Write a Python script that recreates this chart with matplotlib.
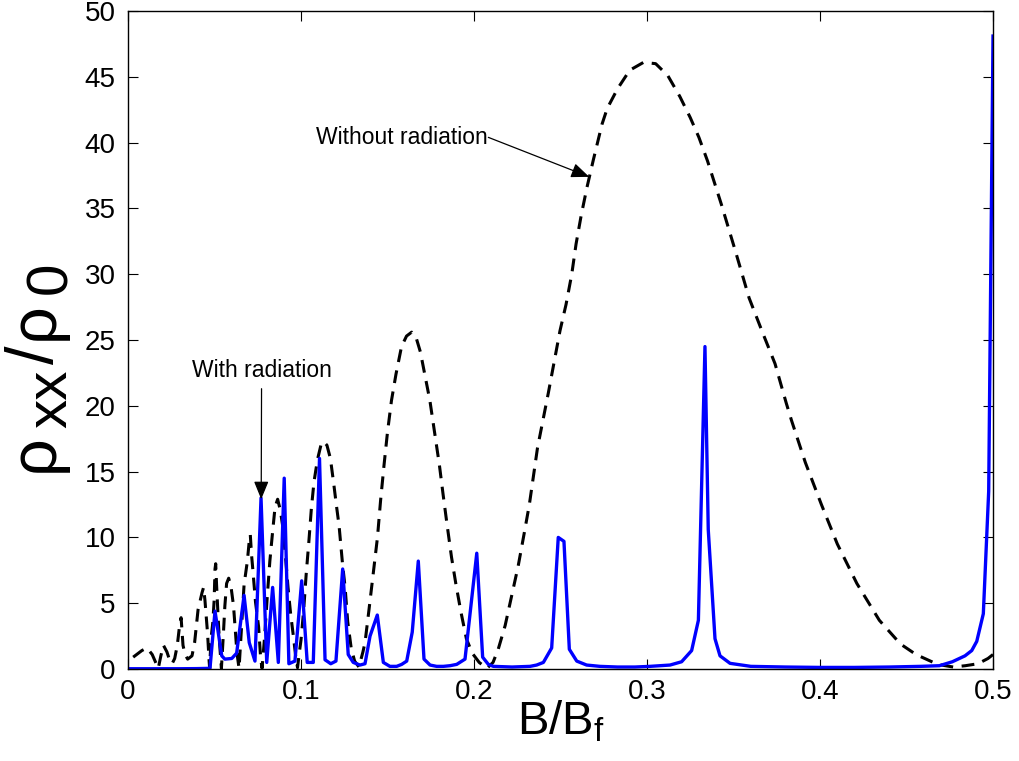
import numpy as np
import matplotlib
matplotlib.use("Agg")
import matplotlib.pyplot as plt

plt.rcParams['font.family'] = ['Liberation Sans', 'DejaVu Sans']
plt.rcParams['mathtext.fontset'] = 'custom'
plt.rcParams['mathtext.rm'] = 'Liberation Sans'
plt.rcParams['mathtext.it'] = 'Liberation Sans'
plt.rcParams['mathtext.bf'] = 'Liberation Sans:bold'

# rho_xx/rho_0 with radiation (blue, solid)
x_rad = [0.0, 0.01, 0.02, 0.03, 0.04, 0.0474, 0.0503, 0.0542, 0.0560, 0.0600,
         0.0628, 0.0671, 0.0701, 0.0734, 0.0769, 0.0802, 0.0836, 0.0869, 0.0903, 0.0930,
         0.0965, 0.1004, 0.1036, 0.1071, 0.1107, 0.1139, 0.1172, 0.1202, 0.1241, 0.1273,
         0.1302, 0.1341, 0.1370, 0.1399, 0.1441, 0.1476, 0.1514, 0.1553, 0.1582, 0.1611,
         0.1643, 0.1678, 0.1711, 0.1746, 0.1784, 0.1823, 0.1861, 0.1900, 0.1948, 0.2016,
         0.2050, 0.2083, 0.2112, 0.2220, 0.2324, 0.2362, 0.2401, 0.2449, 0.2487, 0.2520,
         0.2551, 0.2594, 0.2651, 0.2728, 0.2830, 0.2930, 0.3017, 0.3133, 0.3200, 0.3258,
         0.3297, 0.3335, 0.3354, 0.3393, 0.3422, 0.3480, 0.3600, 0.3800, 0.4000, 0.4200,
         0.4400, 0.4580, 0.4690, 0.4765, 0.4838, 0.4877, 0.4906, 0.4944, 0.4975, 0.5000]
y_rad = [0.02, 0.02, 0.02, 0.02, 0.03, 0.05, 4.4, 1.0, 0.75, 0.8,
         1.2, 5.6, 2.0, 0.6, 13.0, 0.5, 6.2, 0.5, 14.5, 0.4,
         0.6, 6.7, 0.5, 0.5, 16.0, 0.7, 0.4, 0.6, 7.6, 1.1,
         0.5, 0.3, 0.4, 2.5, 4.1, 0.5, 0.2, 0.2, 0.35, 0.6,
         2.8, 8.2, 0.75, 0.3, 0.2, 0.2, 0.25, 0.35, 0.75, 8.8,
         0.9, 0.35, 0.2, 0.15, 0.2, 0.3, 0.5, 1.6, 10.0, 9.7,
         1.5, 0.6, 0.3, 0.2, 0.15, 0.15, 0.2, 0.3, 0.55, 1.4,
         3.7, 24.5, 10.6, 2.3, 1.0, 0.43, 0.2, 0.15, 0.12, 0.12,
         0.15, 0.2, 0.25, 0.55, 1.0, 1.4, 2.1, 4.2, 13.5, 48.1]

# rho_xx/rho_0 without radiation (black, dashed)
x_dark = [0.0030, 0.0080, 0.0110, 0.0140, 0.0160, 0.0175, 0.0190, 0.0205, 0.0225, 0.0240,
          0.0255, 0.0270, 0.0285, 0.0300, 0.0307, 0.0318, 0.0330, 0.0345, 0.0370, 0.0385,
          0.0405, 0.0428, 0.0437, 0.0445, 0.0452, 0.0460, 0.0468, 0.0472, 0.0480, 0.0490,
          0.0498, 0.0503, 0.0507, 0.0512, 0.0520, 0.0528, 0.0540, 0.0552, 0.0560, 0.0570,
          0.0582, 0.0595, 0.0610, 0.0620, 0.0630, 0.0642, 0.0650, 0.0662, 0.0671, 0.0690,
          0.0700, 0.0707, 0.0714, 0.0720, 0.0737, 0.0755, 0.0767, 0.0775, 0.0790, 0.0805,
          0.0820, 0.0835, 0.0850, 0.0865, 0.0880, 0.0895, 0.0910, 0.0925, 0.0940, 0.0955,
          0.0970, 0.0980, 0.0990, 0.1000, 0.1015, 0.1030, 0.1045, 0.1060, 0.1075, 0.1095,
          0.1115, 0.1130, 0.1150, 0.1170, 0.1190, 0.1205, 0.1220, 0.1240, 0.1255, 0.1270,
          0.1290, 0.1310, 0.1335, 0.1358, 0.1370, 0.1393, 0.1416, 0.1442, 0.1460, 0.1480,
          0.1500, 0.1523, 0.1549, 0.1581, 0.1610, 0.1640, 0.1665, 0.1690, 0.1714, 0.1745,
          0.1772, 0.1800, 0.1821, 0.1844, 0.1870, 0.1896, 0.1925, 0.1956, 0.1990, 0.2030,
          0.2075, 0.2110, 0.2140, 0.2180, 0.2220, 0.2255, 0.2290, 0.2320, 0.2367, 0.2430,
          0.2497, 0.2532, 0.2565, 0.2590, 0.2620, 0.2653, 0.2690, 0.2740, 0.2770, 0.2830,
          0.2900, 0.2980, 0.3050, 0.3120, 0.3190, 0.3250, 0.3300, 0.3350, 0.3430, 0.3510,
          0.3590, 0.3670, 0.3740, 0.3805, 0.3835, 0.3875, 0.3915, 0.4008, 0.4100, 0.4213,
          0.4343, 0.4465, 0.4555, 0.4680, 0.4770, 0.4840, 0.4913, 0.4971, 0.5000]
y_dark = [0.9, 1.4, 1.6, 1.1, 0.5, 0.05, 1.0, 1.8, 1.3, 0.7,
          0.4, 0.8, 1.8, 3.5, 3.9, 1.8, 1.1, 0.75, 1.0, 2.0,
          4.5, 5.8, 6.2, 5.2, 4.0, 2.7, 0.8, 0.05, 2.3, 3.5,
          5.2, 7.6, 8.0, 6.4, 4.2, 2.2, 0.05, 2.8, 4.8, 6.5,
          6.9, 6.3, 4.8, 3.0, 1.2, 0.05, 1.8, 4.5, 6.4, 8.2,
          9.6, 10.2, 8.7, 7.8, 5.1, 3.2, 0.8, 0.05, 2.5, 5.5,
          8.2, 10.3, 12.3, 12.9, 12.1, 10.8, 8.6, 6.2, 4.2, 2.6,
          0.9, 0.1, 1.2, 2.2, 4.4, 7.2, 9.6, 12.2, 14.2, 15.9,
          17.0, 17.3, 17.0, 16.0, 14.0, 12.4, 10.9, 8.0, 6.2, 3.6,
          1.6, 0.6, 0.15, 1.3, 2.0, 4.5, 7.1, 10.0, 12.8, 15.5,
          18.0, 20.4, 22.4, 24.5, 25.3, 25.6, 25.2, 24.1, 22.5, 20.4,
          18.0, 15.5, 13.3, 11.0, 8.5, 6.4, 4.3, 2.3, 1.2, 0.5,
          0.05, 0.5, 1.5, 3.3, 5.7, 7.8, 10.3, 12.5, 16.8, 21.0,
          25.7, 27.7, 30.0, 32.3, 34.5, 36.6, 38.7, 41.4, 42.6, 44.1,
          45.5, 46.1, 46.0, 45.1, 43.5, 41.9, 40.4, 38.6, 35.3, 31.8,
          28.2, 25.5, 23.2, 20.2, 18.9, 17.3, 15.7, 12.5, 9.5, 6.5,
          3.7, 1.9, 1.1, 0.35, 0.15, 0.25, 0.4, 0.8, 1.1]

x_ticks = [0, 0.1, 0.2, 0.3, 0.4, 0.5]
x_ticklabels = ['0', '0.1', '0.2', '0.3', '0.4', '0.5']
y_ticks = [0, 5, 10, 15, 20, 25, 30, 35, 40, 45, 50]

W, H = 1019, 761
fig = plt.figure(figsize=(W / 100, H / 100), dpi=100)
ax = fig.add_axes([0.1256, 0.1209, 0.8489, 0.8646])

ax.plot(x_dark, y_dark, color='black', lw=2.2, ls=(0, (4.2, 2.8)))
ax.plot(x_rad, y_rad, color='#0000ff', lw=2.4)

ax.set_xlim(0, 0.5)
ax.set_ylim(0, 50)
ax.set_xticks(x_ticks)
ax.set_xticklabels(x_ticklabels)
ax.set_yticks(y_ticks)
ax.tick_params(direction='in', length=7, width=0.8, top=True, right=True,
               labelsize=20)
ax.tick_params(axis='x', pad=7)
ax.tick_params(axis='y', pad=9)
for s in ax.spines.values():
    s.set_linewidth(1.0)

ax.set_xlabel(r'B/B$_\mathrm{f}$', fontsize=34)
ax.xaxis.set_label_coords(0.5, -0.045)
ax.xaxis.label.set_va('top')

# y label built piece by piece (bigger subscripts, as in the original)
ylab = [('\u03c1', 48, 472, 53), ('xx', 42, 428, 66), ('/', 48, 364, 53),
        ('\u03c1', 48, 340, 53), ('0', 42, 294, 66)]
for txt, size, ypix, xpix in ylab:
    fig.text(xpix / W, 1 - ypix / H, txt, fontsize=size, rotation=90,
             rotation_mode='anchor', ha='left', va='baseline')

arrow = dict(arrowstyle='-|>,head_length=1.1,head_width=0.45', color='black',
             lw=0.9, shrinkA=0, shrinkB=0)
ax.annotate('', xy=(0.0770, 12.9), xytext=(0.0772, 21.3), arrowprops=arrow)
ax.text(0.0772, 21.8, 'With radiation', fontsize=16.5, ha='center', va='bottom')
ax.annotate('', xy=(0.2666, 37.4), xytext=(0.2083, 40.4), arrowprops=arrow)
ax.text(0.2080, 40.4, 'Without radiation', fontsize=16.5, ha='right', va='center')

fig.savefig('out.png', dpi=100)
